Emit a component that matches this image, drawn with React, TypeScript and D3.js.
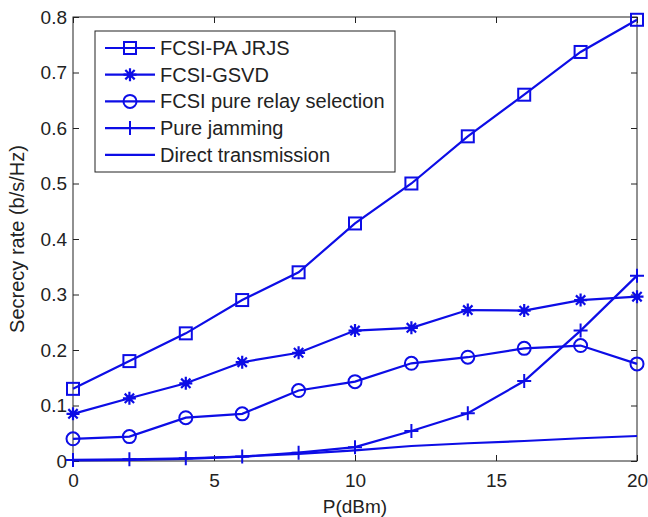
import * as d3 from "d3";
import React, {useEffect, useRef} from "react";

const powers = [0, 2, 4, 6, 8, 10, 12, 14, 16, 18, 20];
const jrjs = [0.13, 0.18, 0.23, 0.29, 0.34, 0.428, 0.5, 0.585, 0.66, 0.737, 0.795];
const gsvd = [0.085, 0.113, 0.14, 0.178, 0.195, 0.235, 0.24, 0.272, 0.271, 0.29, 0.296];
const pureRelay = [0.04, 0.044, 0.078, 0.085, 0.127, 0.143, 0.176, 0.187, 0.203, 0.208, 0.175];
const pureJamming = [0.002, 0.003, 0.005, 0.008, 0.015, 0.025, 0.054, 0.086, 0.144, 0.235, 0.334];
const direct = [0.001, 0.002, 0.004, 0.008, 0.013, 0.019, 0.027, 0.032, 0.036, 0.041, 0.045];

const seriesNames = ["FCSI-PA JRJS", "FCSI-GSVD", "FCSI pure relay selection", "Pure jamming", "Direct transmission"];
const seriesMarkers = ["square", "star", "circle", "plus", "none"];
const xTicks = [0, 5, 10, 15, 20];
const yTicks = [0, 0.1, 0.2, 0.3, 0.4, 0.5, 0.6, 0.7, 0.8];

const BLUE = "#0d0de6";
const FONT = "'Liberation Sans', Arial, sans-serif";

const Chart = () => {
    const ref = useRef(null);

    useEffect(() => {
        const width = 648, height = 517;
        const margin = {left: 73, right: 11, top: 17, bottom: 56};
        const w = width - margin.left - margin.right;
        const h = height - margin.top - margin.bottom;

        const root = d3.select(ref.current);
        root.selectAll("*").remove();
        const svg = root.append("g").attr("transform", `translate(${margin.left},${margin.top})`);

        const x = d3.scaleLinear().domain([0, 20]).range([0, w]);
        const y = d3.scaleLinear().domain([0, 0.8]).range([h, 0]);

        const styleAxis = (g) => {
            g.select(".domain").remove();
            g.selectAll("line").attr("stroke", "#222");
            g.selectAll("text").attr("fill", "#222").attr("font-family", FONT).attr("font-size", 19);
        };

        // bottom + top, ticks pointing inward
        svg.append("g").attr("transform", `translate(0,${h})`)
            .call(d3.axisBottom(x).tickValues(xTicks).tickSizeInner(-6).tickSizeOuter(0).tickPadding(13).tickFormat(d3.format("d")))
            .call(styleAxis);
        svg.append("g")
            .call(d3.axisTop(x).tickValues(xTicks).tickSizeInner(-6).tickSizeOuter(0).tickFormat(() => ""))
            .call(styleAxis);
        // left + right
        svg.append("g")
            .call(d3.axisLeft(y).tickValues(yTicks).tickSizeInner(-6).tickSizeOuter(0).tickPadding(6).tickFormat(d => d === 0 ? "0" : d3.format(".1f")(d)))
            .call(styleAxis);
        svg.append("g").attr("transform", `translate(${w},0)`)
            .call(d3.axisRight(y).tickValues(yTicks).tickSizeInner(-6).tickSizeOuter(0).tickFormat(() => ""))
            .call(styleAxis);

        svg.append("rect").attr("width", w).attr("height", h)
            .attr("fill", "none").attr("stroke", "#222").attr("stroke-width", 1);

        // axis titles
        svg.append("text").attr("x", w / 2).attr("y", h + 52)
            .attr("text-anchor", "middle").attr("font-family", FONT).attr("font-size", 19).attr("fill", "#222")
            .text("P(dBm)");
        svg.append("text").attr("transform", `translate(${-49},${h / 2}) rotate(-90)`)
            .attr("text-anchor", "middle").attr("font-family", FONT).attr("font-size", 20).attr("fill", "#222")
            .text("Secrecy rate (b/s/Hz)");

        const drawMarker = (g, type, cx, cy) => {
            if (type === "square") {
                g.append("rect").attr("x", cx - 6).attr("y", cy - 6).attr("width", 12).attr("height", 12)
                    .attr("fill", "none").attr("stroke", BLUE).attr("stroke-width", 2);
            } else if (type === "circle") {
                g.append("circle").attr("cx", cx).attr("cy", cy).attr("r", 6.5)
                    .attr("fill", "none").attr("stroke", BLUE).attr("stroke-width", 2);
            } else if (type === "star") {
                const r = 6.5, d = r * 0.72;
                const p = `M${cx - r},${cy}L${cx + r},${cy}M${cx},${cy - r}L${cx},${cy + r}` +
                    `M${cx - d},${cy - d}L${cx + d},${cy + d}M${cx - d},${cy + d}L${cx + d},${cy - d}`;
                g.append("path").attr("d", p).attr("stroke", BLUE).attr("stroke-width", 2.2).attr("fill", "none");
                g.append("circle").attr("cx", cx).attr("cy", cy).attr("r", 3).attr("fill", BLUE);
            } else if (type === "plus") {
                const r = 7;
                g.append("path").attr("d", `M${cx - r},${cy}L${cx + r},${cy}M${cx},${cy - r}L${cx},${cy + r}`)
                    .attr("stroke", BLUE).attr("stroke-width", 2).attr("fill", "none");
            }
        };

        const allSeries = [jrjs, gsvd, pureRelay, pureJamming, direct];
        const line = d3.line().x((d, i) => x(powers[i])).y(d => y(d));

        allSeries.forEach((vals, k) => {
            const g = svg.append("g");
            g.append("path").datum(vals).attr("d", line)
                .attr("fill", "none").attr("stroke", BLUE).attr("stroke-width", 2.2);
            vals.forEach((v, i) => drawMarker(g, seriesMarkers[k], x(powers[i]), y(v)));
        });

        // legend
        const lg = root.append("g").attr("transform", "translate(95,31)");
        lg.append("rect").attr("width", 300).attr("height", 141)
            .attr("fill", "white").attr("stroke", "#222").attr("stroke-width", 1);
        seriesNames.forEach((name, k) => {
            const cy = 17 + k * 26.7;
            lg.append("line").attr("x1", 10).attr("x2", 60).attr("y1", cy).attr("y2", cy)
                .attr("stroke", BLUE).attr("stroke-width", 2.2);
            drawMarker(lg, seriesMarkers[k], 35, cy);
            lg.append("text").attr("x", 65).attr("y", cy).attr("dy", "0.35em")
                .attr("font-family", FONT).attr("font-size", 20).attr("fill", "#222")
                .text(name);
        });
    }, []);

    return <svg ref={ref} width={648} height={517}
                style={{position: "absolute", left: 0, top: 0, background: "white"}}/>;
};

export default function App() {
    return <Chart/>;
}
